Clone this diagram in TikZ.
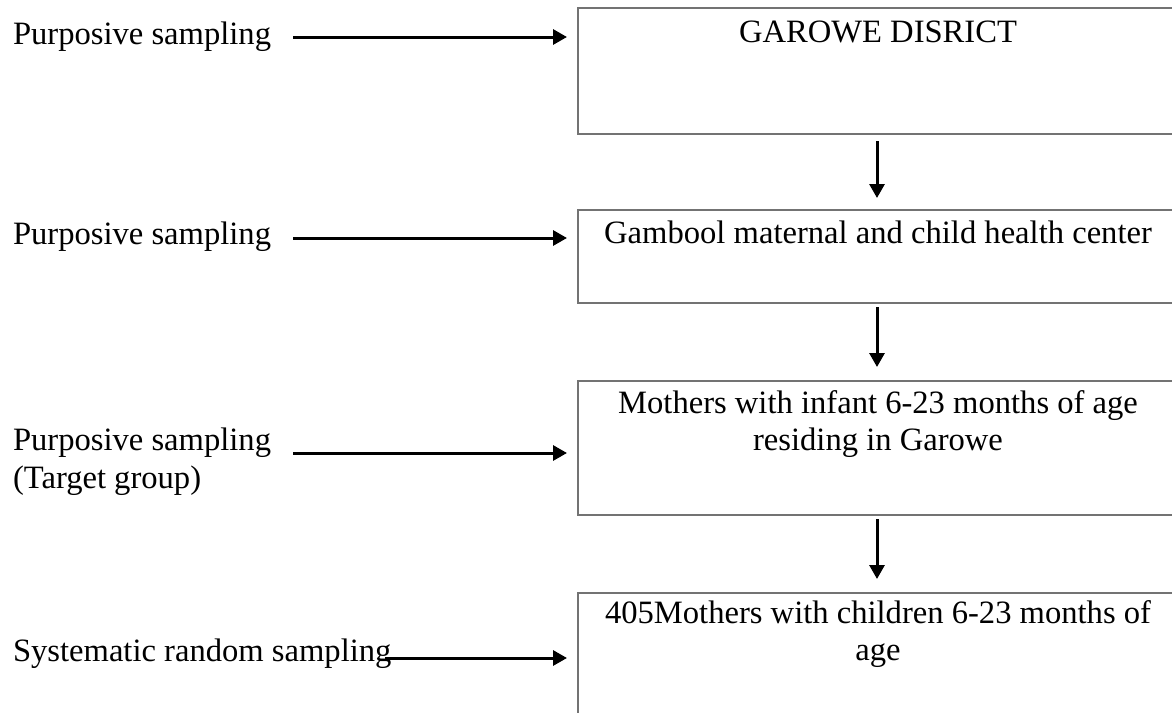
\documentclass[tikz,border=0pt]{standalone}
\usepackage{fontspec}
\setmainfont{Liberation Serif}
\usetikzlibrary{arrows.meta}
\begin{document}
\begin{tikzpicture}[x=0.5pt,y=-0.5pt,
  every node/.style={inner sep=0pt, outer sep=0pt},
  txt/.style={font=\fontsize{16.3pt}{19pt}\selectfont},
  box/.style={draw=black!55, line width=0.75pt, anchor=north west, minimum width=303.5pt},
  arr/.style={line width=1.5pt, -{Triangle[length=7pt,width=7.5pt]}}]
\useasboundingbox (0,0) rectangle (1172,712);
% boxes
\node[box, minimum height=63pt] (b1) at (578,8) {};
\node[box, minimum height=46.5pt] (b2) at (578,210) {};
\node[box, minimum height=67pt] (b3) at (578,381) {};
\node[box, minimum height=64pt] (b4) at (578,593) {};
% box texts
\node[txt, anchor=base] (t1) at (878,42) {GAROWE DISRICT};
\node[txt, anchor=base] (t2) at (878,243) {Gambool maternal and child health center};
\node[txt, anchor=base] (t3a) at (878,413) {Mothers with infant 6-23 months of age};
\node[txt, anchor=base] (t3b) at (878,450) {residing in Garowe};
\node[txt, anchor=base] (t4a) at (878,623) {405Mothers with children 6-23 months of};
\node[txt, anchor=base] (t4b) at (878,660) {age};
% left labels
\node[txt, anchor=base west] (l1) at (13,44) {Purposive sampling};
\node[txt, anchor=base west] (l2) at (13,244) {Purposive sampling};
\node[txt, anchor=base west] (l3a) at (13,450) {Purposive sampling};
\node[txt, anchor=base west] (l3b) at (13,488) {(Target group)};
\node[txt, anchor=base west] (l4) at (13,661) {Systematic random sampling};
% arrow starts
\coordinate (s1) at (293,37);
\coordinate (s2) at (293,238);
\coordinate (s3) at (293,453);
\coordinate (s4) at (385,658);
\coordinate (cx) at (877,0);
% horizontal arrows
\draw[arr, shorten >=5.5pt] (s1) -- (s1 -| b1.west);
\draw[arr, shorten >=5.5pt] (s2) -- (s2 -| b2.west);
\draw[arr, shorten >=5.5pt] (s3) -- (s3 -| b3.west);
\draw[arr, shorten >=5.5pt] (s4) -- (s4 -| b4.west);
% vertical arrows
\draw[arr, shorten <=3.5pt, shorten >=6pt] (cx |- b1.south) -- (cx |- b2.north);
\draw[arr, shorten <=2pt, shorten >=7pt] (cx |- b2.south) -- (cx |- b3.north);
\draw[arr, shorten <=2pt, shorten >=7pt] (cx |- b3.south) -- (cx |- b4.north);
\end{tikzpicture}
\end{document}
